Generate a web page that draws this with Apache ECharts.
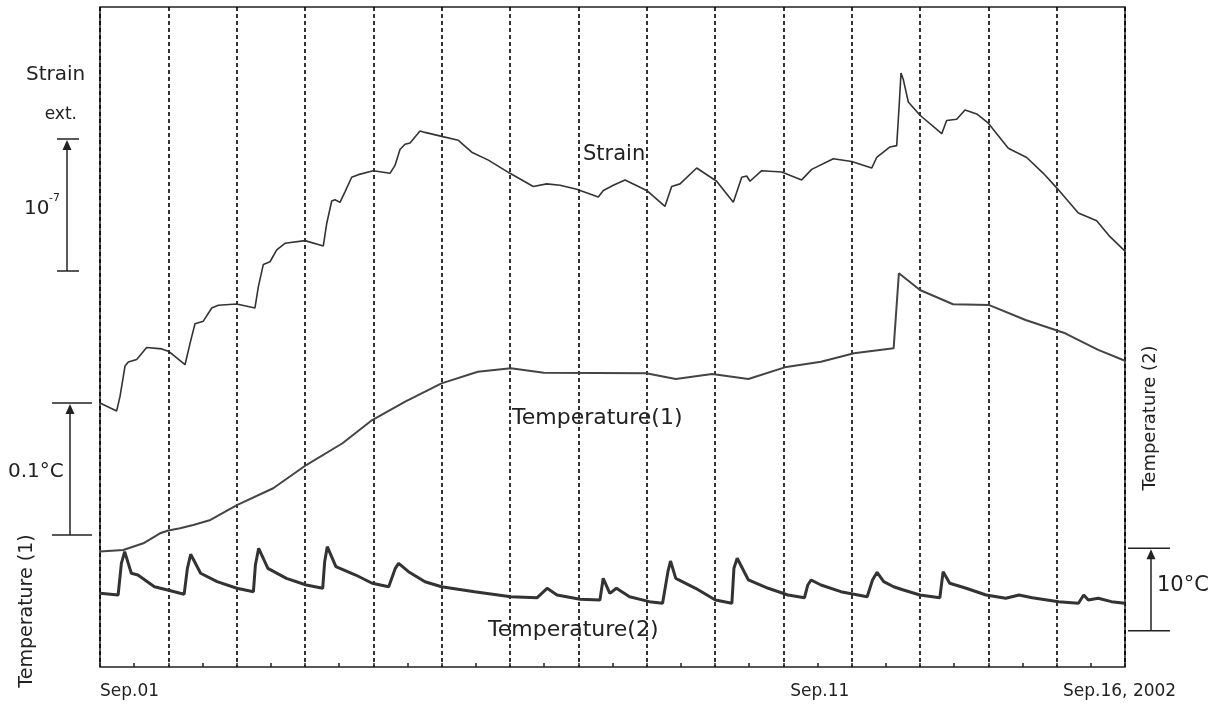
<!DOCTYPE html>
<html>
<head>
<meta charset="utf-8">
<script src="https://cdn.jsdelivr.net/npm/echarts@6/dist/echarts.min.js"></script>
<style>
html,body{margin:0;padding:0;background:#fff;}
#c{width:1226px;height:704px;}
</style>
</head>
<body>
<div id="c"></div>
<script>
// ---- data (x = days since Sep.01 2002) ----
// Strain, in units of 1e-7 (relative)
var strainDay = [0,0.244,0.293,0.366,0.414,0.537,0.683,0.903,1.01,1.244,1.317,1.39,1.512,1.635,1.731,2.0,2.268,2.317,2.39,2.488,2.586,2.707,3.0,3.268,3.318,3.391,3.439,3.512,3.585,3.683,3.78,4.0,4.244,4.317,4.39,4.463,4.537,4.683,4.756,5.0,5.244,5.44,5.683,6.0,6.341,6.537,6.732,6.976,7.292,7.366,7.512,7.683,8.0,8.268,8.366,8.488,8.732,9.024,9.268,9.391,9.464,9.512,9.683,9.976,10.268,10.415,10.732,11.0,11.293,11.366,11.561,11.659,11.697,11.722,11.756,11.829,12.0,12.318,12.39,12.537,12.659,12.83,13.0,13.292,13.561,13.805,14.0,14.317,14.586,14.78,15.0];
var strainVal = [2.00,1.94,2.05,2.28,2.31,2.33,2.42,2.41,2.39,2.29,2.45,2.60,2.62,2.72,2.74,2.75,2.72,2.88,3.05,3.07,3.16,3.21,3.23,3.19,3.36,3.53,3.54,3.52,3.60,3.71,3.73,3.76,3.74,3.80,3.92,3.96,3.97,4.06,4.05,4.02,3.99,3.90,3.84,3.74,3.64,3.66,3.65,3.62,3.56,3.61,3.65,3.69,3.61,3.49,3.64,3.66,3.78,3.68,3.52,3.71,3.72,3.68,3.76,3.75,3.69,3.77,3.85,3.83,3.78,3.86,3.94,3.95,4.27,4.50,4.45,4.28,4.18,4.04,4.14,4.15,4.22,4.19,4.12,3.93,3.86,3.74,3.63,3.44,3.38,3.26,3.15];
// Temperature(1), deg C (relative)
var t1Day = [0,0.341,0.634,0.878,1.0,1.171,1.365,1.617,2.003,2.535,3.018,3.549,3.983,4.466,4.998,5.529,6.012,6.495,7.992,8.426,8.958,9.489,10.02,10.551,11.034,11.614,11.691,12.0,12.483,13.014,13.545,14.125,14.608,15.0];
var t1Val = [0.0875,0.0886,0.0937,0.1013,0.1034,0.1051,0.1076,0.1114,0.1227,0.1354,0.1530,0.1695,0.1871,0.2010,0.2149,0.2237,0.2263,0.2230,0.2225,0.2182,0.2220,0.2182,0.2270,0.2313,0.2377,0.2414,0.2983,0.2856,0.2748,0.2742,0.2629,0.2528,0.2402,0.2320];
// Temperature(2), deg C (relative)
var t2Day = [0,0.265,0.313,0.361,0.458,0.555,0.796,0.989,1.231,1.279,1.327,1.472,1.714,2.003,2.245,2.274,2.322,2.457,2.728,3.018,3.259,3.288,3.326,3.452,3.742,3.983,4.225,4.322,4.37,4.515,4.756,4.998,5.48,6.012,6.398,6.543,6.688,7.026,7.316,7.364,7.461,7.557,7.75,8.04,8.233,8.311,8.349,8.426,8.716,9.006,9.247,9.277,9.325,9.489,9.779,10.068,10.31,10.358,10.406,10.551,10.841,11.227,11.305,11.372,11.469,11.614,11.758,12.0,12.29,12.338,12.435,12.676,12.966,13.256,13.449,13.642,14.029,14.318,14.396,14.463,14.608,14.801,15.0];
var t2Val = [8.93,8.73,12.57,13.98,11.36,11.15,9.73,9.33,8.81,11.96,13.66,11.36,10.34,9.54,9.13,12.36,14.39,11.96,10.75,9.94,9.54,12.76,14.58,12.16,11.15,10.15,9.73,11.96,12.57,11.55,10.34,9.73,9.13,8.52,8.40,9.54,8.73,8.21,8.12,10.75,8.93,9.54,8.52,7.92,7.72,11.55,12.85,10.75,9.54,8.12,7.72,11.96,13.18,10.55,9.54,8.73,8.40,9.94,10.55,9.94,9.13,8.52,10.55,11.48,10.34,9.73,9.33,8.73,8.40,11.55,10.15,9.54,8.73,8.33,8.73,8.40,7.92,7.72,8.73,8.12,8.33,7.92,7.72];
// Tick labels
var tickDays = [0, 10, 15];
var tickLabels = ['Sep.01', 'Sep.11', 'Sep.16, 2002'];
// Scale bars [from, to] in each series' units
var strainBar = [3.0, 4.0];     // 1e-7
var t1Bar = [0.1, 0.2];         // 0.1 deg C
var t2Bar = [4.4, 14.4];        // 10 deg C

function pairs(a, b) { return a.map(function (d, i) { return [d, b[i]]; }); }

var FONT = 'DejaVu Sans';
var INK = '#222';
var chart = echarts.init(document.getElementById('c'), null, {renderer: 'canvas'});

chart.setOption({
  animation: false,
  backgroundColor: '#fff',
  grid: {left: 100, top: 7, width: 1025, height: 660, show: true, borderColor: INK, borderWidth: 1.5, backgroundColor: 'transparent'},
  xAxis: {
    type: 'value', min: 0, max: 15, interval: 1,
    axisLine: {show: false},
    axisTick: {show: true, inside: true, length: 4, lineStyle: {color: INK, width: 1.5}},
    minorTick: {show: true, splitNumber: 2, length: 4, lineStyle: {color: INK, width: 1.5}},
    axisLabel: {show: false},
    splitLine: {show: true, lineStyle: {color: '#000', width: 1.6, type: [4, 3]}}
  },
  yAxis: [
    {type: 'value', min: 0, max: 5, show: false, splitLine: {show: false}},
    {type: 'value', min: 0, max: 0.5, show: false, splitLine: {show: false}},
    {type: 'value', min: 0, max: 80, show: false, splitLine: {show: false}}
  ],
  series: [
    {name: 'Strain', type: 'line', yAxisIndex: 0, showSymbol: false, data: pairs(strainDay, strainVal),
      lineStyle: {color: '#333', width: 1.6}},
    {name: 'Temperature(1)', type: 'line', yAxisIndex: 1, showSymbol: false, data: pairs(t1Day, t1Val),
      lineStyle: {color: '#444', width: 2}},
    {name: 'Temperature(2)', type: 'line', yAxisIndex: 2, showSymbol: false, data: pairs(t2Day, t2Val),
      lineStyle: {color: '#333', width: 3}}
  ]
});

function px(v) { return chart.convertToPixel({xAxisIndex: 0}, v); }
function py(idx, v) { return chart.convertToPixel({yAxisIndex: idx}, v); }

function scaleBar(x, x1, x2, yBot, yTop) {
  var els = [];
  var ls = {stroke: INK, lineWidth: 1.5};
  els.push({type: 'line', shape: {x1: x1, y1: yTop, x2: x2, y2: yTop}, style: ls});
  els.push({type: 'line', shape: {x1: x1, y1: yBot, x2: x2, y2: yBot}, style: ls});
  els.push({type: 'line', shape: {x1: x, y1: yTop + 8, x2: x, y2: yBot}, style: ls});
  els.push({type: 'polygon', shape: {points: [[x, yTop + 1], [x - 4.5, yTop + 11], [x + 4.5, yTop + 11]]}, style: {fill: INK}});
  return els;
}

function txt(x, y, s, size, opts) {
  var o = {type: 'text', x: x, y: y, style: {text: s, fill: INK, font: size + 'px "' + FONT + '"', textVerticalAlign: 'middle', textAlign: 'left'}};
  if (opts) {
    for (var k in opts) {
      if (k === 'style') { for (var j in opts.style) o.style[j] = opts.style[j]; }
      else o[k] = opts[k];
    }
  }
  return o;
}

var g = [];
g = g.concat(scaleBar(67, 57, 79, py(0, strainBar[0]), py(0, strainBar[1])));
g = g.concat(scaleBar(70, 52, 92, py(1, t1Bar[0]), py(1, t1Bar[1])));
g = g.concat(scaleBar(1151, 1128, 1170, py(2, t2Bar[0]), py(2, t2Bar[1])));

g.push(txt(26, 75, 'Strain', 20));
g.push(txt(77, 115, 'ext.', 17, {style: {textAlign: 'right'}}));
g.push(txt(24, 209, '10', 20));
g.push(txt(49, 198, '-7', 11));
g.push(txt(8, 472, '0.1\u00B0C', 20));
g.push(txt(1157, 586, '10\u00B0C', 21));
g.push(txt(27, 611, 'Temperature (1)', 19, {rotation: Math.PI / 2, style: {textAlign: 'center'}}));
g.push(txt(1150, 418, 'Temperature (2)', 18, {rotation: Math.PI / 2, style: {textAlign: 'center'}}));
g.push(txt(583, 155, 'Strain', 21));
g.push(txt(512, 418, 'Temperature(1)', 22));
g.push(txt(488, 630, 'Temperature(2)', 22));

// axis tick labels
var offs = [0, 7, -62];
tickDays.forEach(function (d, i) {
  g.push(txt(px(d) + offs[i], 692, tickLabels[i], 17));
});

chart.setOption({graphic: g});
</script>
</body>
</html>
